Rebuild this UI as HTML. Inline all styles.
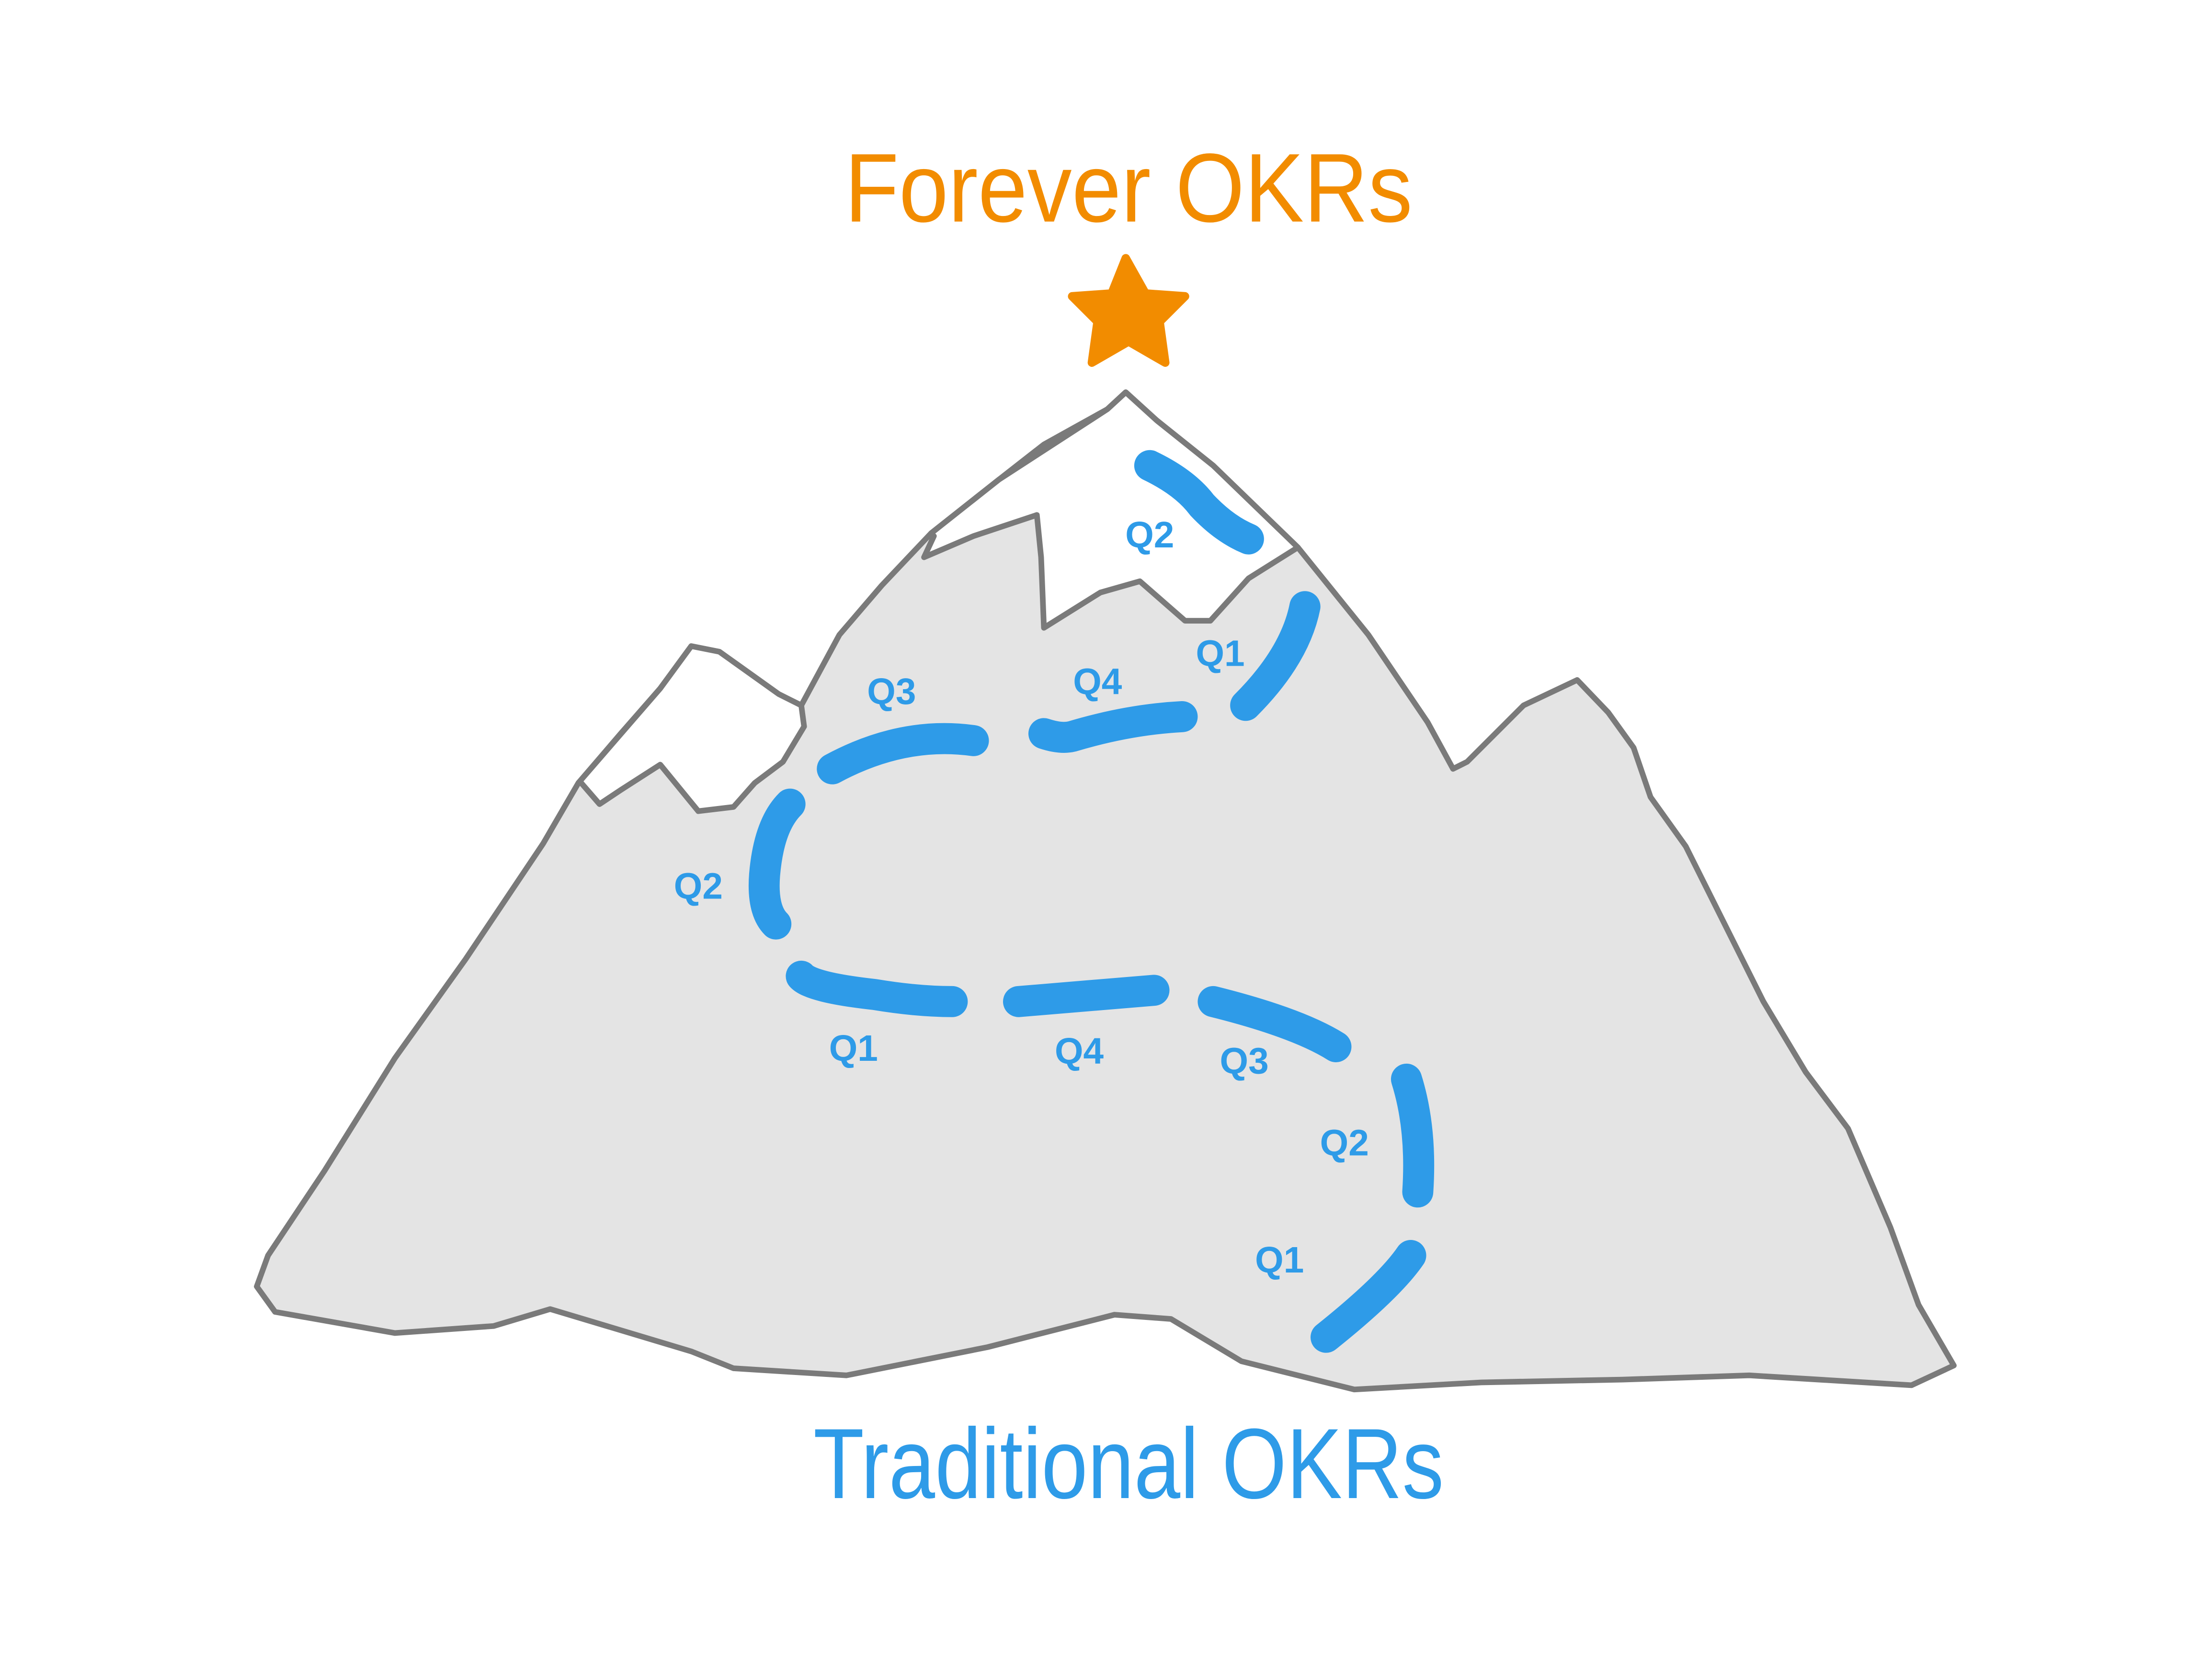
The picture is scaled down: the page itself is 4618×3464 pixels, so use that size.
<!DOCTYPE html>
<html><head><meta charset="utf-8"><style>
html,body{margin:0;padding:0;background:#fff;}
svg{display:block;}
</style></head><body>
<svg width="4618" height="3464" viewBox="0 0 1568 1176" xmlns="http://www.w3.org/2000/svg">
<rect width="1568" height="1176" fill="#fff"/>
<path d="M182,912 L190,890 L230,830 L280,750 L330,680 L385,598 L410,555 L440,520 L468,488 L490,458 L510,462 L552,492 L568,500 L595,450 L625,415 L660,378 L708,340 L740,315 L785,290 L798,278 L820,298 L860,330 L920,388 L970,450 L1012,512 L1030,545 L1040,540 L1080,500 L1118,482 L1140,505 L1158,530 L1170,565 L1195,600 L1220,650 L1250,710 L1280,760 L1310,800 L1340,870 L1360,925 L1385,968 L1355,982 L1240,975 L1150,978 L1050,980 L960,985 L880,965 L830,935 L790,932 L700,955 L600,975 L520,970 L490,958 L430,940 L390,928 L350,940 L280,945 L195,930 Z" fill="#e4e4e4" stroke="#7a7a7a" stroke-width="4" stroke-linejoin="round"/>
<path d="M660,378 L708,340 L785,290 L798,278 L820,298 L860,330 L920,388 L885,410 L858,440 L840,440 L808,412 L780,420 L740,445 L738,395 L735,365 L690,380 L655,395 L662,380 Z" fill="#fff" stroke="#7a7a7a" stroke-width="4" stroke-linejoin="round"/>
<path d="M410,555 L468,488 L490,458 L510,462 L552,492 L568,500 L570,515 L555,540 L535,555 L520,572 L495,575 L468,542 L440,560 L425,570 L412,555 Z" fill="#fff" stroke="#7a7a7a" stroke-width="4" stroke-linejoin="round"/>
<g fill="none" stroke="#2e9be8" stroke-width="22" stroke-linecap="round" stroke-linejoin="round">
<path d="M815,330 Q840,342 852,358 Q868,375 885,382"/>
<path d="M925,430 Q918,465 883,500"/>
<path d="M740,520 Q752,524 760,522 Q800,510 838,508"/>
<path d="M590,545 Q640,518 690,525"/>
<path d="M560,570 Q545,585 542,620 Q540,645 550,655"/>
<path d="M568,692 Q575,700 620,705 Q650,710 675,710"/>
<path d="M722,710 L818,702"/>
<path d="M860,710 Q920,725 947,742"/>
<path d="M997,765 Q1008,800 1005,845"/>
<path d="M1000,890 Q985,912 940,948"/>
</g>
<g font-family="'Liberation Sans',sans-serif" font-size="26" fill="#2e9be8" text-anchor="middle" font-weight="bold">
<text x="815" y="388">Q2</text>
<text x="865" y="472">Q1</text>
<text x="778" y="492">Q4</text>
<text x="632" y="499">Q3</text>
<text x="495" y="637">Q2</text>
<text x="605" y="752">Q1</text>
<text x="765" y="754">Q4</text>
<text x="882" y="761">Q3</text>
<text x="953" y="819">Q2</text>
<text x="907" y="902">Q1</text>
</g>
<text transform="translate(800,157) scale(1,1.1)" font-family="'Liberation Sans',sans-serif" font-size="63" fill="#f28c00" text-anchor="middle">Forever OKRs</text>
<text transform="translate(800,1062) scale(1,1.2)" font-family="'Liberation Sans',sans-serif" font-size="59" fill="#2e9be8" text-anchor="middle">Traditional OKRs</text>
<path d="M798,183 L812,208 L840,210 L822,228 L826,257 L800,242 L774,257 L778,228 L760,210 L788,208 Z" fill="#f28c00" stroke="#f28c00" stroke-width="6" stroke-linejoin="round"/>
</svg>
</body></html>
